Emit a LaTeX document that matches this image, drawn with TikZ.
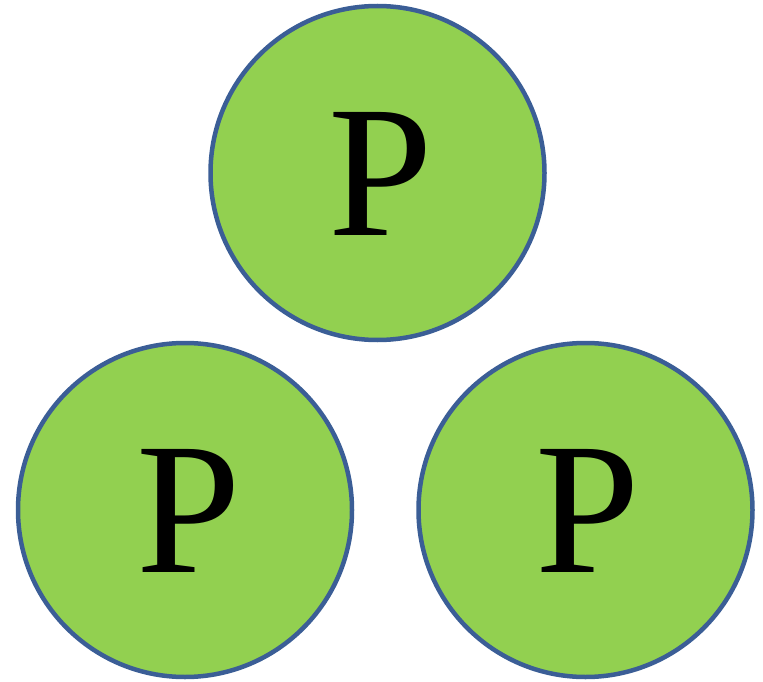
\documentclass[tikz,border=0pt]{standalone}
\usepackage{fontspec}
\setmainfont{Liberation Serif}
\definecolor{pfill}{RGB}{146,208,80}
\definecolor{pedge}{RGB}{59,94,150}
\begin{document}
\begin{tikzpicture}[x=1pt,y=-1pt,
  ball/.style={circle,draw=pedge,fill=pfill,line width=4.5pt,minimum size=334pt,inner sep=0pt},
  letter/.style={inner sep=0pt,font=\fontsize{188}{188}\selectfont}]
\useasboundingbox (0,0) rectangle (763,682);
\node[ball] (top) at (377.5,173) {};
\node[ball] (left) at (185,510) {};
\node[ball] (right) at (585.5,510) {};
\node[letter] (ptop) at (380.5,174) {P};
\node[letter] (pleft) at (188.5,510.5) {P};
\node[letter] (pright) at (588,510.5) {P};
\end{tikzpicture}
\end{document}
